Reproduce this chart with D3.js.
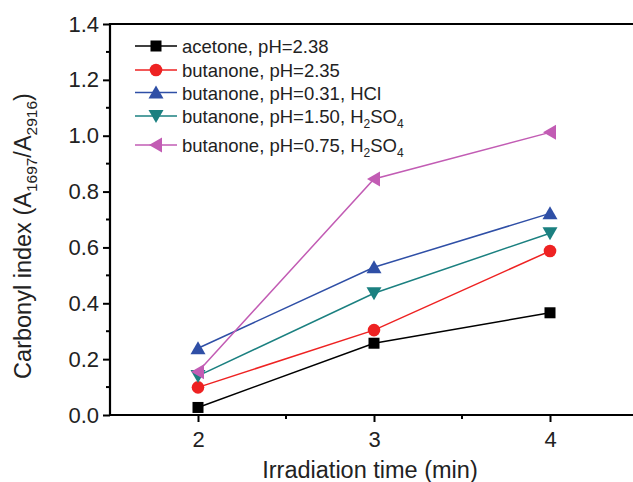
<!DOCTYPE html>
<html>
<head>
<meta charset="utf-8">
<script src="https://cdn.jsdelivr.net/npm/d3@7"></script>
<style>
  body { margin: 0; background: #fff; }
  svg { font-family: "Liberation Sans", Arial, sans-serif; }
</style>
</head>
<body>
<svg id="chart" width="633" height="482"></svg>
<script>
// data
const times = [2, 3, 4];
const acetone238 = [0.027, 0.257, 0.366];
const butanone235 = [0.099, 0.304, 0.587];
const butanone031 = [0.239, 0.529, 0.722];
const butanone150 = [0.140, 0.436, 0.651];
const butanone075 = [0.155, 0.845, 1.012];
const yTicks = [0.0, 0.2, 0.4, 0.6, 0.8, 1.0, 1.2, 1.4];
const xTicks = [2, 3, 4];

const series = [
  { values: acetone238, color: "#000000", symbol: "square", label: ["acetone, pH=2.38"] },
  { values: butanone235, color: "#ee2222", symbol: "circle", label: ["butanone, pH=2.35"] },
  { values: butanone031, color: "#2f4fa6", symbol: "up", label: ["butanone, pH=0.31, HCl"] },
  { values: butanone150, color: "#1b8080", symbol: "down", label: ["butanone, pH=1.50, H", "2", "SO", "4"] },
  { values: butanone075, color: "#c25cb4", symbol: "left", label: ["butanone, pH=0.75, H", "2", "SO", "4"] }
];

const svg = d3.select("#chart");

const x = d3.scaleLinear().domain([1.5, 4.5]).range([110, 638]);
const y = d3.scaleLinear().domain([0, 1.4]).range([415, 24]);

// marker shapes
function drawMarker(g, sym, cx, cy, color) {
  const s = 6;
  if (sym === "square") {
    g.append("rect").attr("x", cx - 5.5).attr("y", cy - 5.5)
      .attr("width", 11).attr("height", 11).attr("fill", color);
  } else if (sym === "circle") {
    g.append("circle").attr("cx", cx).attr("cy", cy).attr("r", 6.3).attr("fill", color);
  } else {
    let pts;
    if (sym === "up") pts = [[0, -s - 1], [s + 1.5, s], [-s - 1.5, s]];
    if (sym === "down") pts = [[0, s + 1], [s + 1.5, -s], [-s - 1.5, -s]];
    if (sym === "left") pts = [[-s - 1, 0], [s, -s - 1.5], [s, s + 1.5]];
    g.append("polygon")
      .attr("points", pts.map(p => (cx + p[0]) + "," + (cy + p[1])).join(" "))
      .attr("fill", color);
  }
}

// axes
const yAxis = d3.axisLeft(y).tickValues(yTicks).tickFormat(d3.format(".1f"))
  .tickSize(7).tickPadding(4);
const gy = svg.append("g").attr("transform", "translate(" + x(1.5) + ",0)").call(yAxis);
gy.selectAll("text").attr("font-size", 22).attr("fill", "#222").attr("font-family", "Liberation Sans, Arial");
gy.selectAll("line").attr("stroke-width", 2);
gy.select(".domain").remove();

// minor y ticks
svg.append("g").selectAll("line")
  .data(d3.range(1, 14, 2).map(d => d / 10))
  .enter().append("line")
  .attr("x1", x(1.5)).attr("x2", x(1.5) - 4)
  .attr("y1", d => y(d)).attr("y2", d => y(d))
  .attr("stroke", "#000").attr("stroke-width", 2);

const xAxis = d3.axisBottom(x).tickValues(xTicks).tickFormat(d3.format("d"))
  .tickSize(7).tickPadding(9);
const gx = svg.append("g").attr("transform", "translate(0," + y(0) + ")").call(xAxis);
gx.selectAll("text").attr("font-size", 22).attr("fill", "#222").attr("font-family", "Liberation Sans, Arial");
gx.selectAll("line").attr("stroke-width", 2);
gx.select(".domain").remove();

// minor x ticks
svg.append("g").selectAll("line")
  .data([2.5, 3.5])
  .enter().append("line")
  .attr("x1", d => x(d)).attr("x2", d => x(d))
  .attr("y1", y(0)).attr("y2", y(0) + 4)
  .attr("stroke", "#000").attr("stroke-width", 2);

// frame (right side is cut off in the figure)
svg.append("line").attr("x1", x(1.5)).attr("x2", x(1.5)).attr("y1", y(1.4) - 1).attr("y2", y(0) + 1)
  .attr("stroke", "#000").attr("stroke-width", 2.2);
svg.append("line").attr("x1", x(1.5) - 1).attr("x2", 633).attr("y1", y(0)).attr("y2", y(0))
  .attr("stroke", "#000").attr("stroke-width", 2.2);
svg.append("line").attr("x1", x(1.5) - 1).attr("x2", 633).attr("y1", y(1.4)).attr("y2", y(1.4))
  .attr("stroke", "#000").attr("stroke-width", 2.2);

// series lines and markers
const line = d3.line().x((d, i) => x(times[i])).y(d => y(d));
series.forEach(s => {
  svg.append("path").datum(s.values)
    .attr("d", line).attr("fill", "none")
    .attr("stroke", s.color).attr("stroke-width", 1.5);
  const g = svg.append("g");
  s.values.forEach((v, i) => drawMarker(g, s.symbol, x(times[i]), y(v), s.color));
});

// legend
const legendY = [46, 70, 92.5, 116, 145];
series.forEach((s, i) => {
  const ly = legendY[i];
  svg.append("line").attr("x1", 135).attr("x2", 177).attr("y1", ly).attr("y2", ly)
    .attr("stroke", s.color).attr("stroke-width", 1.5);
  drawMarker(svg, s.symbol, 156, ly, s.color);
  const t = svg.append("text").attr("x", 182).attr("y", ly + 7)
    .attr("font-size", 18.5).attr("fill", "#222");
  t.append("tspan").text(s.label[0]);
  if (s.label.length > 1) {
    t.append("tspan").text(s.label[1]).attr("font-size", 12).attr("dy", 5);
    t.append("tspan").text(s.label[2]).attr("dy", -5);
    t.append("tspan").text(s.label[3]).attr("font-size", 12).attr("dy", 5);
  }
});

// axis titles
svg.append("text").attr("x", 370).attr("y", 478).attr("text-anchor", "middle")
  .attr("font-size", 23.5).attr("fill", "#222").text("Irradiation time (min)");

const yt = svg.append("text")
  .attr("transform", "translate(31,236) rotate(-90)")
  .attr("text-anchor", "middle").attr("font-size", 23.5).attr("fill", "#222");
yt.append("tspan").text("Carbonyl index (A");
yt.append("tspan").text("1697").attr("font-size", 15.5).attr("dy", 6);
yt.append("tspan").text("/A").attr("dy", -6);
yt.append("tspan").text("2916").attr("font-size", 15.5).attr("dy", 6);
yt.append("tspan").text(")").attr("dy", -6);
</script>
</body>
</html>
